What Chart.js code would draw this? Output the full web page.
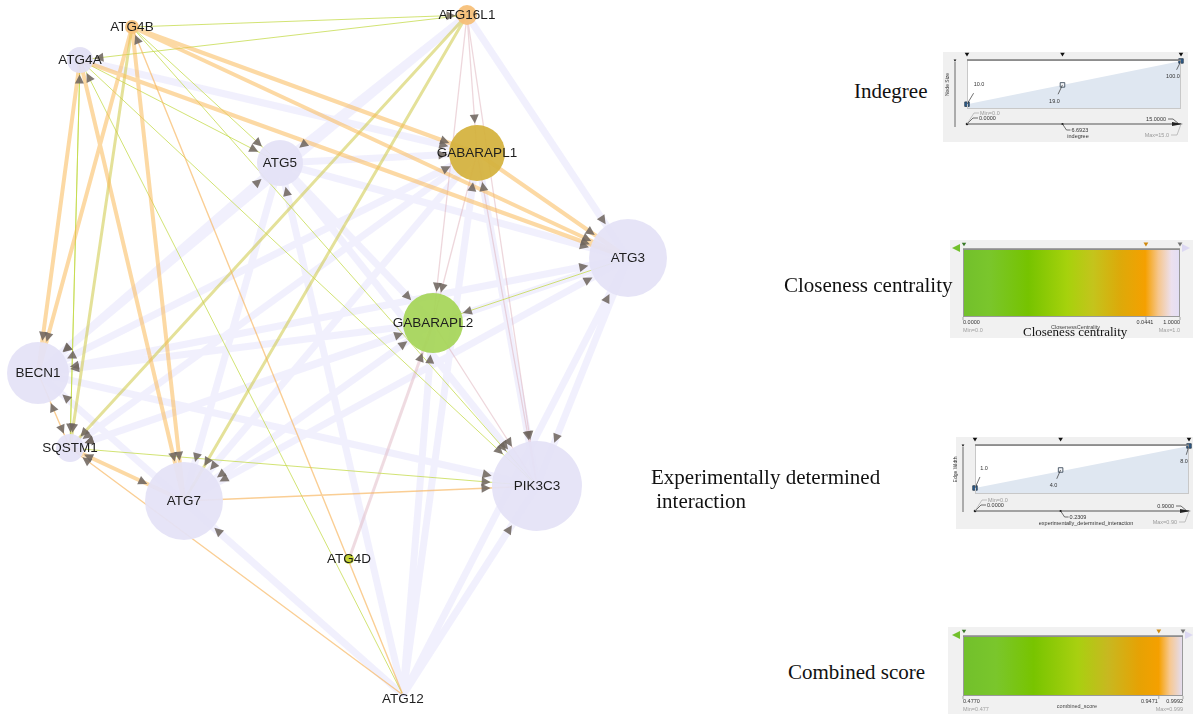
<!DOCTYPE html>
<html>
<head>
<meta charset="utf-8">
<script src="https://cdn.jsdelivr.net/npm/chart.js@4.4.1/dist/chart.umd.min.js"></script>
<style>
  body { margin: 0; background: #fff; width: 1193px; height: 714px; overflow: hidden; position: relative; }
  canvas { position: absolute; }
  .lbl { position: absolute; font-family: "Liberation Serif", "Times New Roman", serif; font-size: 21px; line-height: 21px; color: #111; white-space: pre; }
</style>
</head>
<body>
<canvas id="net" width="700" height="714" style="left:0;top:0"></canvas>
<canvas id="pIndeg" width="250" height="92" style="left:940px;top:50px"></canvas>
<canvas id="pClose" width="245" height="98" style="left:948px;top:240px"></canvas>
<canvas id="pExp" width="245" height="95" style="left:948px;top:435px"></canvas>
<canvas id="pComb" width="245" height="89" style="left:948px;top:625px"></canvas>

<div class="lbl" style="left:854px;top:81px">Indegree</div>
<div class="lbl" style="left:784px;top:275px">Closeness centrality</div>
<div class="lbl" style="left:1023px;top:325px;font-size:13px;line-height:13px">Closeness centrality</div>
<div class="lbl" style="left:651px;top:467px">Experimentally determined</div>
<div class="lbl" style="left:651px;top:491px"> interaction</div>
<div class="lbl" style="left:788px;top:662px">Combined score</div>

<script>
// network nodes (layout position, size from indegree mapping, fill from closeness)
const nodeNames = ["ATG4B", "ATG4A", "ATG16L1", "ATG5", "GABARAPL1", "ATG3", "GABARAPL2",
                   "BECN1", "SQSTM1", "ATG7", "PIK3C3", "ATG4D", "ATG12"];
const nodeX = [132, 80, 467, 280, 477, 628, 433, 38, 70, 184, 537, 349, 403];
const nodeY = [27, 60, 15, 163, 153, 258, 323, 373, 448, 501, 486, 559, 695];
const nodeSize = [7, 13, 10, 23, 28, 39, 30, 31, 14, 39, 45, 5, 2];
const nodeColor = ["#f8c27c", "#e2e0f4", "#f7bf78", "#e4e2f6", "#d5b33f", "#e4e2f6", "#a7d65a",
                   "#e4e2f6", "#e4e2f6", "#e4e2f6", "#e4e2f6", "#c4d22a", "#e4e2f6"];

// edges: source, target, kind
const edges = [
  ["ATG4B", "ATG3", "o"], ["ATG4B", "GABARAPL1", "o"], ["ATG4A", "ATG3", "o"],
  ["ATG4B", "ATG7", "o"], ["ATG4A", "ATG7", "o"], ["ATG4B", "BECN1", "o"],
  ["ATG4A", "BECN1", "o"], ["SQSTM1", "ATG7", "o"], ["ATG7", "SQSTM1", "o"],
  ["GABARAPL1", "ATG3", "o"],
  ["ATG12", "ATG4B", "ot"], ["SQSTM1", "BECN1", "ot"], ["ATG7", "PIK3C3", "ot"],
  ["ATG12", "SQSTM1", "ot"], ["BECN1", "SQSTM1", "ot"],
  ["ATG4B", "ATG16L1", "g"], ["ATG16L1", "ATG4A", "g"], ["ATG4B", "ATG5", "g"],
  ["ATG4A", "ATG5", "g"], ["ATG4A", "SQSTM1", "g"], ["ATG4A", "PIK3C3", "g"],
  ["ATG4B", "PIK3C3", "g"], ["SQSTM1", "PIK3C3", "g"], ["ATG3", "GABARAPL2", "g"],
  ["ATG12", "ATG4A", "g"], ["SQSTM1", "ATG4A", "g"],
  ["ATG16L1", "SQSTM1", "go"], ["ATG16L1", "ATG7", "go"], ["ATG4B", "SQSTM1", "go"],
  ["ATG16L1", "GABARAPL1", "p"], ["ATG16L1", "GABARAPL2", "p"], ["ATG16L1", "PIK3C3", "p"],
  ["GABARAPL1", "GABARAPL2", "p"], ["GABARAPL1", "PIK3C3", "p"], ["GABARAPL2", "PIK3C3", "p"],
  ["ATG4D", "GABARAPL2", "pw"],
  ["ATG16L1", "ATG3", "l"], ["ATG16L1", "ATG5", "l"], ["ATG16L1", "BECN1", "l"],
  ["ATG4A", "GABARAPL1", "l"], ["ATG5", "GABARAPL1", "l"], ["ATG5", "ATG3", "l"],
  ["ATG5", "GABARAPL2", "l"], ["ATG5", "PIK3C3", "l"], ["ATG5", "ATG7", "l"],
  ["ATG5", "BECN1", "l"], ["GABARAPL1", "BECN1", "l"], ["GABARAPL1", "ATG7", "l"],
  ["GABARAPL1", "SQSTM1", "l"], ["ATG3", "BECN1", "l"], ["ATG3", "ATG7", "l"],
  ["ATG3", "SQSTM1", "l"], ["ATG3", "PIK3C3", "l"], ["GABARAPL2", "BECN1", "l"],
  ["GABARAPL2", "ATG7", "l"], ["GABARAPL2", "SQSTM1", "l"], ["ATG12", "GABARAPL2", "l"],
  ["BECN1", "PIK3C3", "l"], ["ATG12", "BECN1", "l"], ["ATG12", "ATG7", "l"],
  ["ATG12", "PIK3C3", "l"], ["ATG12", "ATG5", "l"], ["ATG12", "GABARAPL1", "l"],
  ["ATG12", "ATG3", "l"], ["PIK3C3", "GABARAPL1", "l"], ["ATG7", "ATG3", "l"],
  ["BECN1", "ATG3", "l"], ["BECN1", "ATG5", "l"], ["BECN1", "GABARAPL1", "l"],
  ["ATG7", "GABARAPL2", "l"], ["SQSTM1", "GABARAPL2", "l"]
];

// legend panels
const indegreeHandles = [0, 6.6923, 15];
const nodeSizeHandles = [10, 19, 100];
const edgeHandlePos = [0, 0.4, 1];
const edgeWidthHandles = [1, 4, 8];
const closenessTicks = ["0.0000", "0.0441", "1.0000"];
const closenessTickPos = [0, 0.843, 1];
const combinedTicks = ["0.4770", "0.9471", "0.9992"];
const combinedTickPos = [0, 0.89, 1];
const closenessStops = [[0, "#72c02c"], [0.12, "#7ac62c"], [0.3, "#76c300"], [0.48, "#a6d20c"],
                        [0.6, "#c4c41c"], [0.72, "#dcaa0a"], [0.84, "#f5a000"], [0.9, "#f6c68c"],
                        [0.96, "#ece0ee"], [1, "#e2def6"]];
const combinedStops = [[0, "#72c02c"], [0.15, "#7ac62c"], [0.32, "#78c400"], [0.52, "#a8d010"],
                       [0.66, "#c8b820"], [0.8, "#e6a204"], [0.89, "#f5a000"], [0.94, "#f7c890"],
                       [1, "#e2def6"]];

const edgeStyles = {
  l:  { color: "rgba(214,211,248,0.34)", width: 7, order: 10 },
  p:  { color: "rgba(222,175,185,0.5)", width: 1.3, order: 9 },
  pw: { color: "rgba(225,190,200,0.55)", width: 3, order: 9 },
  g:  { color: "rgba(195,218,70,0.75)", width: 1, order: 8 },
  go: { color: "rgba(205,200,70,0.55)", width: 3, order: 7 },
  ot: { color: "rgba(248,180,90,0.65)", width: 1.4, order: 6 },
  o:  { color: "rgba(250,185,90,0.55)", width: 4, order: 5 }
};

const idx = name => nodeNames.indexOf(name);

const edgeDatasets = Object.keys(edgeStyles).map(kind => {
  const pts = [];
  edges.filter(e => e[2] === kind).forEach(e => {
    const s = idx(e[0]), t = idx(e[1]);
    pts.push({ x: nodeX[s], y: nodeY[s] }, { x: nodeX[t], y: nodeY[t] }, { x: nodeX[t], y: null });
  });
  const st = edgeStyles[kind];
  return {
    type: "line", data: pts, borderColor: st.color, borderWidth: st.width,
    pointRadius: 0, fill: false, tension: 0, spanGaps: false, order: st.order
  };
});

const arrowsAndLabels = {
  id: "arrowsAndLabels",
  afterDatasetsDraw(chart) {
    const ctx = chart.ctx;
    const xs = chart.scales.x, ys = chart.scales.y;
    ctx.save();
    ctx.fillStyle = "rgba(112,102,96,0.88)";
    edges.forEach(e => {
      const s = idx(e[0]), t = idx(e[1]);
      const sx = xs.getPixelForValue(nodeX[s]), sy = ys.getPixelForValue(nodeY[s]);
      const tx = xs.getPixelForValue(nodeX[t]), ty = ys.getPixelForValue(nodeY[t]);
      const d = Math.hypot(tx - sx, ty - sy);
      const ux = (tx - sx) / d, uy = (ty - sy) / d;
      const r = nodeSize[t] + 1.5;
      const px = tx - ux * r, py = ty - uy * r;
      const bx = px - ux * 9, by = py - uy * 9;
      ctx.beginPath();
      ctx.moveTo(px, py);
      ctx.lineTo(bx - uy * 4.5, by + ux * 4.5);
      ctx.lineTo(bx + uy * 4.5, by - ux * 4.5);
      ctx.closePath();
      ctx.fill();
    });
    ctx.fillStyle = "#1e1e1e";
    ctx.font = '13.5px "Liberation Sans", Arial, sans-serif';
    ctx.textAlign = "center";
    ctx.textBaseline = "middle";
    nodeNames.forEach((n, i) => {
      const off = n === "ATG12" ? 4 : 0;
      ctx.fillText(n, xs.getPixelForValue(nodeX[i]), ys.getPixelForValue(nodeY[i]) + off);
    });
    ctx.restore();
  }
};

new Chart(document.getElementById("net"), {
  type: "bubble",
  data: {
    datasets: [
      ...edgeDatasets,
      {
        type: "bubble",
        data: nodeNames.map((n, i) => ({ x: nodeX[i], y: nodeY[i], r: nodeSize[i] })),
        backgroundColor: nodeColor.map(c => c + "f0"),
        borderWidth: 0,
        order: 1,
        clip: false
      }
    ]
  },
  options: {
    responsive: false,
    animation: false,
    events: [],
    layout: { padding: 0, autoPadding: false },
    plugins: { legend: { display: false }, tooltip: { enabled: false } },
    scales: {
      x: { type: "linear", display: false, min: 0, max: 700 },
      y: { type: "linear", display: false, min: 0, max: 714, reverse: true }
    }
  },
  plugins: [arrowsAndLabels]
});

// small helpers for the legend editors
const tri = (ctx, x, y, s, dir, color) => {
  ctx.fillStyle = color;
  ctx.beginPath();
  if (dir === "down") { ctx.moveTo(x - s, y - s); ctx.lineTo(x + s, y - s); ctx.lineTo(x, y + s * 0.6); }
  if (dir === "left") { ctx.moveTo(x + s, y - s); ctx.lineTo(x + s, y + s); ctx.lineTo(x - s, y); }
  if (dir === "right") { ctx.moveTo(x - s, y - s); ctx.lineTo(x - s, y + s); ctx.lineTo(x + s, y); }
  ctx.closePath();
  ctx.fill();
};
const tinyText = (ctx, txt, x, y, align, color, size) => {
  ctx.fillStyle = color || "#333";
  ctx.font = (size || 5.5) + 'px "Liberation Sans", Arial, sans-serif';
  ctx.textAlign = align || "left";
  ctx.textBaseline = "middle";
  ctx.fillText(txt, x, y);
};

const mappingPanel = (canvasId, cfg) => {
  const decor = {
    id: "decor",
    beforeDraw(chart) {
      const ctx = chart.ctx, a = chart.chartArea;
      ctx.save();
      ctx.fillStyle = "#f0f0f0";
      ctx.fillRect(cfg.bg[0], cfg.bg[1], cfg.bg[2], cfg.bg[3]);
      ctx.fillStyle = "#fff";
      ctx.fillRect(a.left, a.top, a.right - a.left, a.bottom - a.top);
      ctx.restore();
    },
    afterDraw(chart) {
      const ctx = chart.ctx, a = chart.chartArea;
      const xs = chart.scales.x;
      ctx.save();
      ctx.strokeStyle = "#c8c8c8";
      ctx.lineWidth = 1;
      ctx.strokeRect(a.left + 0.5, a.top + 0.5, a.right - a.left - 1, a.bottom - a.top - 1);
      ctx.strokeStyle = "#7a7a7a";
      ctx.lineWidth = 1.5;
      ctx.beginPath(); ctx.moveTo(a.left, a.top); ctx.lineTo(a.right, a.top); ctx.stroke();
      cfg.hx.forEach(v => tri(ctx, xs.getPixelForValue(v), a.top - 5, 2.3, "down", "#111"));
      // y axis
      ctx.strokeStyle = "#444"; ctx.lineWidth = 0.8;
      ctx.beginPath(); ctx.moveTo(a.left - 12, a.bottom + 18); ctx.lineTo(a.left - 12, a.top + 2); ctx.stroke();
      tri(ctx, a.left - 12, a.top + 1, 1.4, "down", "#111");
      ctx.save();
      ctx.translate(a.left - 19, (a.top + a.bottom) / 2);
      ctx.rotate(-Math.PI / 2);
      tinyText(ctx, cfg.yTitle, 0, 0, "center", "#333", 5);
      ctx.restore();
      // x axis
      const ay = a.bottom + cfg.axisGap;
      ctx.strokeStyle = "#555"; ctx.lineWidth = 1.2;
      ctx.beginPath(); ctx.moveTo(a.left, ay); ctx.lineTo(a.right, ay); ctx.stroke();
      ctx.fillStyle = "#222";
      ctx.beginPath(); ctx.moveTo(a.right - 9, ay - 2); ctx.lineTo(a.right + 2, ay); ctx.lineTo(a.right - 9, ay + 2); ctx.fill();
      ctx.beginPath(); ctx.arc(a.left, ay, 1.3, 0, 7); ctx.arc(xs.getPixelForValue(cfg.hx[1]), ay, 1.1, 0, 7); ctx.fill();
      // leader lines and labels
      ctx.strokeStyle = "#333"; ctx.lineWidth = 0.7;
      const mx = xs.getPixelForValue(cfg.hx[1]);
      ctx.beginPath();
      ctx.moveTo(a.left, ay); ctx.lineTo(a.left + 6, ay - 6); ctx.lineTo(a.left + 11, ay - 6);
      ctx.moveTo(mx, ay); ctx.lineTo(mx + 4, ay + 6); ctx.lineTo(mx + 8, ay + 6);
      ctx.moveTo(a.right - 2, ay); ctx.lineTo(a.right - 8, ay - 5); ctx.lineTo(a.right - 13, ay - 5);
      ctx.stroke();
      ctx.strokeStyle = "#aaa";
      ctx.beginPath();
      ctx.moveTo(a.left, ay); ctx.lineTo(a.left + 7, ay - 11); ctx.lineTo(a.left + 12, ay - 11);
      ctx.moveTo(a.right, ay); ctx.lineTo(a.right - 4, ay + 11); ctx.lineTo(a.right - 10, ay + 11);
      ctx.stroke();
      tinyText(ctx, cfg.minTxt, a.left + 13, ay - 11, "left", "#9a9a9a");
      tinyText(ctx, cfg.ticks[0], a.left + 12, ay - 6, "left");
      tinyText(ctx, cfg.ticks[1], mx + 9, ay + 6, "left");
      tinyText(ctx, cfg.ticks[2], a.right - 15, ay - 5, "right");
      tinyText(ctx, cfg.maxTxt, a.right - 12, ay + 11, "right", "#9a9a9a");
      tinyText(ctx, cfg.xTitle, (a.left + a.right) / 2 + 4, ay + 12, "center", "#333", 5.5);
      // handle labels
      const meta = chart.getDatasetMeta(1);
      meta.data.forEach((p, i) => {
        const o = cfg.labOff[i];
        ctx.strokeStyle = "#333";
        ctx.beginPath(); ctx.moveTo(p.x, p.y); ctx.lineTo(p.x + o[0] * 0.55, p.y + o[1] * 0.55); ctx.stroke();
        tinyText(ctx, cfg.hyLabels[i], p.x + o[0], p.y + o[1], "center");
      });
      ctx.restore();
    }
  };
  new Chart(document.getElementById(canvasId), {
    type: "line",
    data: {
      datasets: [
        {
          data: [{ x: cfg.hx[0], y: cfg.hy[0] }, { x: cfg.hx[2], y: cfg.hy[2] }],
          fill: "start", backgroundColor: "#dfe7f1", borderWidth: 0, pointRadius: 0, order: 2
        },
        {
          data: cfg.hx.map((x, i) => ({ x: x, y: cfg.hyPlot[i] })),
          showLine: false, pointStyle: "rect", pointRadius: 3.2,
          pointBackgroundColor: ["#2f5f8f", "#f4f6fa", "#2f5f8f"],
          pointBorderColor: "#2a3a4a", pointBorderWidth: 0.8, order: 1, clip: false
        }
      ]
    },
    options: {
      responsive: false, animation: false, events: [],
      layout: { padding: cfg.pad, autoPadding: false },
      plugins: { legend: { display: false }, tooltip: { enabled: false } },
      scales: {
        x: { type: "linear", display: false, min: cfg.hx[0], max: cfg.hx[2] },
        y: { type: "linear", display: false, min: cfg.yMin, max: cfg.yMax }
      }
    },
    plugins: [decor]
  });
};

// the editor places the middle handle on the ramp between the end handles
const onRamp = (hx, hy) => hy[0] + (hy[2] - hy[0]) * (hx[1] - hx[0]) / (hx[2] - hx[0]);

mappingPanel("pIndeg", {
  hx: indegreeHandles, hy: nodeSizeHandles,
  hyPlot: [nodeSizeHandles[0], onRamp(indegreeHandles, nodeSizeHandles), nodeSizeHandles[2]],
  hyLabels: nodeSizeHandles.map(v => v.toFixed(1)),
  yMin: 0, yMax: 102, pad: { left: 27, right: 9, top: 10, bottom: 33 },
  bg: [3, 2, 245, 90], axisGap: 15, yTitle: "Node Size", xTitle: "indegree",
  ticks: ["0.0000", "6.6923", "15.0000"], minTxt: "Min=0.0", maxTxt: "Max=15.0",
  labOff: [[12, -20], [-8, 17], [-8, 16]]
});

mappingPanel("pExp", {
  hx: edgeHandlePos, hy: edgeWidthHandles, hyPlot: edgeWidthHandles,
  hyLabels: edgeWidthHandles.map(v => v.toFixed(1)),
  yMin: 0, yMax: 8.16, pad: { left: 27, right: 4, top: 10, bottom: 36 },
  bg: [8, 2, 237, 92], axisGap: 17, yTitle: "Edge Width", xTitle: "experimentally_determined_interaction",
  ticks: ["0.0000", "0.2309", "0.9000"], minTxt: "Min=0.0", maxTxt: "Max=0.90",
  labOff: [[9, -20], [-7, 16], [-5, 16]]
});

const gradientPanel = (canvasId, cfg) => {
  const decor = {
    id: "gdecor",
    beforeDraw(chart) {
      const ctx = chart.ctx;
      ctx.save();
      ctx.fillStyle = "#f1f1f1";
      ctx.fillRect(cfg.bg[0], cfg.bg[1], cfg.bg[2], cfg.bg[3]);
      ctx.restore();
    },
    afterDraw(chart) {
      const ctx = chart.ctx, a = chart.chartArea, xs = chart.scales.x;
      ctx.save();
      ctx.strokeStyle = "#9a9a9a"; ctx.lineWidth = 1;
      ctx.strokeRect(a.left + 0.5, a.top + 0.5, a.right - a.left - 1, a.bottom - a.top - 1);
      ctx.strokeStyle = "#8a8a8a"; ctx.lineWidth = 1.4;
      ctx.beginPath(); ctx.moveTo(a.left, a.top); ctx.lineTo(a.right, a.top); ctx.stroke();
      tri(ctx, a.left - 7, a.top - 1, 4, "left", "#72c02c");
      tri(ctx, xs.getPixelForValue(cfg.tickPos[1]), a.top - 4, 2.4, "down", "#d08a10");
      tri(ctx, a.right + 6, a.top - 1, 4, "right", "#dcd8f2");
      tri(ctx, a.right, a.top - 4, 2.4, "down", "#777");
      tri(ctx, a.left + 1, a.top - 4, 2.2, "down", "#3a7a2a");
      ctx.strokeStyle = "#777"; ctx.lineWidth = 0.6;
      cfg.tickPos.forEach(p => {
        const x = xs.getPixelForValue(p);
        ctx.beginPath(); ctx.moveTo(x, a.bottom); ctx.lineTo(x, a.bottom + 3); ctx.stroke();
      });
      tinyText(ctx, cfg.ticks[0], a.left, a.bottom + 5, "left");
      tinyText(ctx, cfg.ticks[1], xs.getPixelForValue(cfg.tickPos[1]) - 1, a.bottom + 5, cfg.midAlign);
      tinyText(ctx, cfg.ticks[2], a.right, a.bottom + 5, "right");
      tinyText(ctx, cfg.minTxt, a.left, a.bottom + 13, "left", "#a0a0a0");
      tinyText(ctx, cfg.maxTxt, a.right, a.bottom + 13, "right", "#a0a0a0");
      tinyText(ctx, cfg.title, (a.left + a.right) / 2 + 4, a.bottom + 10, "center", "#444", 5.5);
      ctx.restore();
    }
  };
  new Chart(document.getElementById(canvasId), {
    type: "bar",
    data: {
      labels: [""],
      datasets: [{
        data: [[0, 1]],
        backgroundColor: c => {
          const a = c.chart.chartArea;
          if (!a) return "#9c3";
          const g = c.chart.ctx.createLinearGradient(a.left, 0, a.right, 0);
          cfg.stops.forEach(s => g.addColorStop(s[0], s[1]));
          return g;
        },
        barPercentage: 1, categoryPercentage: 1, borderWidth: 0, borderSkipped: false
      }]
    },
    options: {
      indexAxis: "y", responsive: false, animation: false, events: [],
      layout: { padding: cfg.pad, autoPadding: false },
      plugins: { legend: { display: false }, tooltip: { enabled: false } },
      scales: {
        x: { type: "linear", display: false, min: 0, max: 1 },
        y: { display: false }
      }
    },
    plugins: [decor]
  });
};

gradientPanel("pClose", {
  stops: closenessStops, ticks: closenessTicks, tickPos: closenessTickPos, midAlign: "center",
  minTxt: "Min=0.0", maxTxt: "Max=1.0", title: "ClosenessCentrality",
  pad: { left: 15, right: 13, top: 9, bottom: 21 }, bg: [2, 0, 243, 98]
});

gradientPanel("pComb", {
  stops: combinedStops, ticks: combinedTicks, tickPos: combinedTickPos, midAlign: "right",
  minTxt: "Min=0.477", maxTxt: "Max=0.999", title: "combined_score",
  pad: { left: 15, right: 10, top: 11, bottom: 18 }, bg: [0, 2, 245, 87]
});
</script>
</body>
</html>
